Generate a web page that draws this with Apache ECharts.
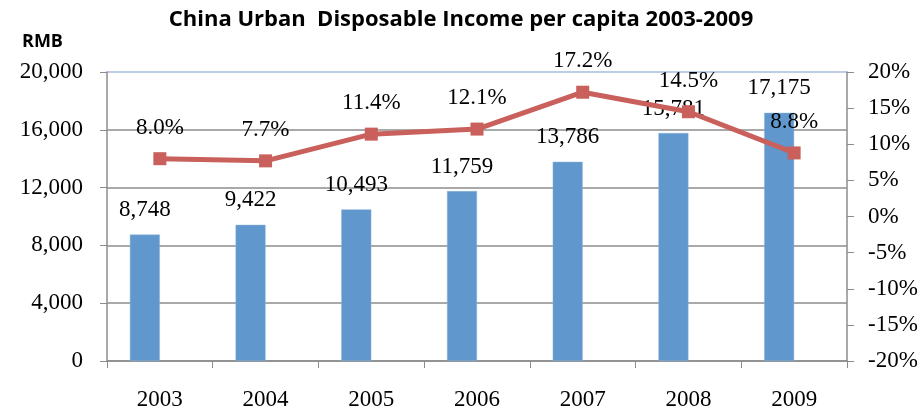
<!DOCTYPE html>
<html>
<head>
<meta charset="utf-8">
<script src="https://cdn.jsdelivr.net/npm/echarts@6/dist/echarts.min.js"></script>
<style>
html,body{margin:0;padding:0;background:#fff;}
#chart{width:922px;height:411px;}
</style>
</head>
<body>
<div id="chart"></div>
<script>
// data
var years = ['2003','2004','2005','2006','2007','2008','2009'];
var income = [8748, 9422, 10493, 11759, 13786, 15781, 17175];
var growth = [8.0, 7.7, 11.4, 12.1, 17.2, 14.5, 8.8];

var serif = '"Liberation Serif", "Times New Roman", serif';
var gridColor = '#8c8c8c';

var myChart = echarts.init(document.getElementById('chart'));
var option = {
    backgroundColor: '#fff',
    animation: false,
    title: {
        text: 'China Urban  Disposable Income per capita 2003-2009',
        left: 'center',
        top: 4,
        textStyle: {fontFamily: '"Open Sans", sans-serif', fontWeight: 'bold', fontSize: 22, color: '#000'}
    },
    graphic: [{
        type: 'text',
        left: 22,
        top: 33,
        style: {text: 'RMB', font: 'bold 18px "Open Sans", sans-serif', fill: '#000'}
    }],
    grid: {left: 107, right: 75, top: 72, bottom: 48},
    xAxis: {
        type: 'category',
        data: years,
        boundaryGap: true,
        axisLine: {lineStyle: {color: gridColor, width: 1.5}},
        axisTick: {show: true, length: 7, lineStyle: {color: gridColor}},
        axisLabel: {fontFamily: serif, fontSize: 23, color: '#000', margin: 27}
    },
    yAxis: [{
        type: 'value',
        min: 0, max: 20000, interval: 4000,
        axisLine: {show: true, lineStyle: {color: gridColor, width: 1.5}},
        axisTick: {show: true, length: 7, lineStyle: {color: gridColor}},
        splitLine: {show: true, lineStyle: {color: [gridColor, gridColor, gridColor, gridColor, gridColor, '#a7bedb'], width: 1.5}},
        axisLabel: {
            fontFamily: serif, fontSize: 23, color: '#000', margin: 24,
            formatter: function(v){ return v.toLocaleString('en-US'); }
        }
    }, {
        type: 'value',
        min: -20, max: 20, interval: 5,
        position: 'right',
        axisLine: {show: true, lineStyle: {color: gridColor, width: 1.5}},
        axisTick: {show: true, length: 7, lineStyle: {color: gridColor}},
        splitLine: {show: false},
        axisLabel: {
            fontFamily: serif, fontSize: 23, color: '#000', margin: 21,
            formatter: function(v){ return v + '%'; }
        }
    }],
    series: [{
        name: 'Income',
        type: 'bar',
        data: income,
        barWidth: 30,
        barGap: '0%',
        itemStyle: {color: '#6097cc', borderColor: '#8fb6dd', borderWidth: 0.5},
        label: {
            show: true, position: 'top', distance: 13,
            fontFamily: serif, fontSize: 23, color: '#000',
            formatter: function(p){ return p.value.toLocaleString('en-US'); }
        }
    }, {
        // empty second column slot, as in the original clustered layout
        name: 'blank',
        type: 'bar',
        data: [null, null, null, null, null, null, null],
        barWidth: 30,
        barGap: '0%'
    }, {
        name: 'Growth',
        type: 'line',
        yAxisIndex: 1,
        data: growth,
        symbol: 'rect',
        symbolSize: 13,
        lineStyle: {color: '#c9605c', width: 5},
        itemStyle: {color: '#c9605c'},
        label: {
            show: true, position: 'top', distance: 13,
            fontFamily: serif, fontSize: 23, color: '#000',
            formatter: function(p){ return p.value.toFixed(1) + '%'; }
        },
        z: 5
    }]
};
myChart.setOption(option);
</script>
</body>
</html>
